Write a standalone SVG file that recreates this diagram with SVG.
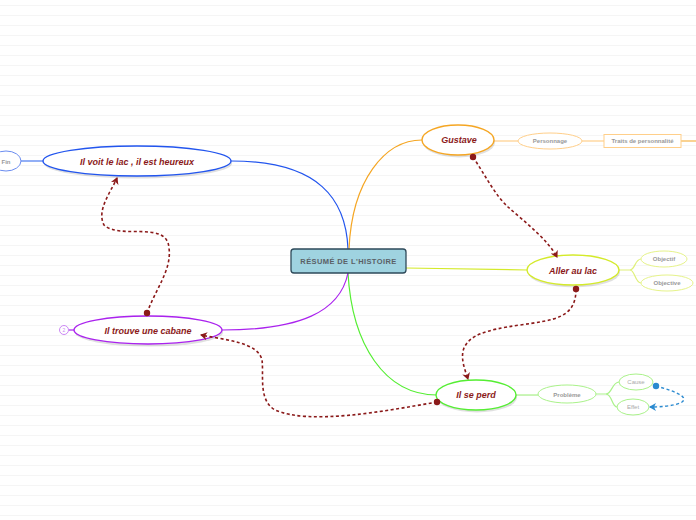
<svg xmlns="http://www.w3.org/2000/svg" width="696" height="520" viewBox="0 0 696 520">
<defs>
<pattern id="lines" width="696" height="10" patternUnits="userSpaceOnUse">
<rect width="696" height="10" fill="#ffffff"/>
<line x1="0" y1="5.5" x2="696" y2="5.5" stroke="#f5f5f5" stroke-width="1"/>
</pattern>
<marker id="arr" markerWidth="8" markerHeight="8" refX="6" refY="4" orient="auto" markerUnits="userSpaceOnUse">
<path d="M0,0 L7,4 L0,8 L2,4 Z" fill="#8b1a1a"/>
</marker>
<marker id="dot" markerWidth="8" markerHeight="8" refX="4" refY="4" markerUnits="userSpaceOnUse">
<circle cx="4" cy="4" r="3.2" fill="#8b1a1a"/>
</marker>
<marker id="arrb" markerWidth="8" markerHeight="8" refX="6" refY="4" orient="auto" markerUnits="userSpaceOnUse">
<path d="M0,0 L7,4 L0,8 L2,4 Z" fill="#2a8ad0"/>
</marker>
<marker id="dotb" markerWidth="8" markerHeight="8" refX="4" refY="4" markerUnits="userSpaceOnUse">
<circle cx="4" cy="4" r="3.2" fill="#2a8ad0"/>
</marker>
</defs>
<style>
.main{font-family:"Liberation Sans",Arial,sans-serif;font-weight:bold;font-style:italic;font-size:9px;fill:#8b1a1a;text-anchor:middle}
.sub{font-family:"Liberation Sans",Arial,sans-serif;font-weight:bold;font-size:6px;fill:#999;text-anchor:middle}
.shadow{fill:#000;opacity:0.12}
.rel{fill:none;stroke:#8b1a1a;stroke-width:1.6;stroke-dasharray:3,2.5}
.br{fill:none;stroke-width:1.2}
</style>
<rect width="696" height="520" fill="url(#lines)"/>

<g id="connectors">
<path class="br" stroke="#2255ee" d="M348,249 C346,200 320,161 231,161"/>
<path class="br" stroke="#f5a623" d="M349,249 C352,180 385,140 422,140"/>
<path class="br" stroke="#d4ea2a" d="M406,268 L527,270"/>
<path class="br" stroke="#55ee33" d="M348,273 C352,345 385,395 437,395"/>
<path class="br" stroke="#aa22ee" d="M348,273 C340,312 300,330 222,330"/>
<path class="br" stroke="#ffcf8a" d="M494,141 L518,141"/>
<path class="br" stroke="#ffcf8a" d="M582,141 L604,141"/>
<path class="br" stroke="#f5b44a" stroke-width="1.4" d="M681,141 L696,141"/>
<path class="br" stroke="#dff07a" d="M619,270 L630,270 C635,270 635,259 641,259"/>
<path class="br" stroke="#dff07a" d="M630,270 C635,270 635,283 641,283"/>
<path class="br" stroke="#aaf28a" d="M516,395 L538,395"/>
<path class="br" stroke="#aaf28a" d="M596,394 L606,394 C612,394 612,382 619,382"/>
<path class="br" stroke="#aaf28a" d="M606,394 C612,394 612,407 617,407"/>
<path class="br" stroke="#4a7af0" d="M21,161 L43,161"/>
<path class="br" stroke="#aa22ee" d="M69,330 L75,330"/>
</g>

<g id="central">
<rect x="291" y="249" width="115" height="24" rx="3" fill="#9fd3e0" stroke="#2e4a5a" stroke-width="1.3"/>
<text x="348.5" y="264" font-family="Liberation Sans,Arial,sans-serif" font-weight="bold" font-size="7.5px" letter-spacing="0.4" fill="#5a6066" text-anchor="middle">RÉSUMÉ DE L'HISTOIRE</text>
</g>

<g id="gustave">
<ellipse class="shadow" cx="459" cy="142.5" rx="36" ry="15"/>
<ellipse cx="458" cy="140" rx="36" ry="15" fill="#fff" stroke="#f5a623" stroke-width="1.4"/>
<text class="main" x="459" y="143">Gustave</text>
</g>
<g id="personnage">
<ellipse cx="550" cy="141" rx="32" ry="8" fill="#fff" stroke="#ffcf8a" stroke-width="1"/>
<text class="sub" x="550" y="143">Personnage</text>
</g>
<g id="traits">
<rect x="604" y="134.5" width="77" height="13" fill="#fff" stroke="#ffcf8a" stroke-width="1"/>
<text class="sub" x="642.5" y="143">Traits de personnalité</text>
</g>

<g id="aller">
<ellipse class="shadow" cx="574" cy="272.5" rx="46" ry="15"/>
<ellipse cx="573" cy="270" rx="46" ry="15" fill="#fff" stroke="#d4ea2a" stroke-width="1.4"/>
<text class="main" x="573" y="273.5">Aller au lac</text>
</g>
<g id="objectif">
<ellipse cx="664" cy="259" rx="23" ry="8" fill="#fff" stroke="#e6f38a" stroke-width="1"/>
<text class="sub" x="664" y="261">Objectif</text>
</g>
<g id="objective">
<ellipse cx="667" cy="283" rx="26" ry="8" fill="#fff" stroke="#e6f38a" stroke-width="1"/>
<text class="sub" x="667" y="285">Objective</text>
</g>

<g id="perd">
<ellipse class="shadow" cx="477" cy="397.5" rx="40" ry="15"/>
<ellipse cx="476" cy="395" rx="40" ry="15" fill="#fff" stroke="#55ee33" stroke-width="1.4"/>
<text class="main" x="476" y="398">Il se perd</text>
</g>
<g id="probleme">
<ellipse cx="567" cy="394" rx="29" ry="9" fill="#fff" stroke="#aaf28a" stroke-width="1"/>
<text class="sub" x="567" y="396.5" font-size="6.5px">Problème</text>
</g>
<g id="cause">
<ellipse cx="636" cy="382" rx="17" ry="8" fill="#fff" stroke="#aaf28a" stroke-width="1"/>
<text class="sub" x="636" y="384" style="fill:#aaa;font-weight:normal">Cause</text>
</g>
<g id="effet">
<ellipse cx="633" cy="407" rx="16" ry="8" fill="#fff" stroke="#aaf28a" stroke-width="1"/>
<text class="sub" x="633" y="409" style="fill:#aaa;font-weight:normal">Effet</text>
</g>

<g id="voit">
<ellipse class="shadow" cx="138" cy="163.5" rx="94" ry="15"/>
<ellipse cx="137" cy="161" rx="94" ry="15" fill="#fff" stroke="#2255ee" stroke-width="1.4"/>
<text class="main" x="137" y="164.5">Il voit le lac , il est heureux</text>
</g>
<g id="fin">
<ellipse cx="6" cy="161" rx="15" ry="10" fill="#fff" stroke="#6a8cf0" stroke-width="1"/>
<text class="sub" x="6" y="163.5" font-size="7px">Fin</text>
</g>

<g id="cabane">
<ellipse class="shadow" cx="149" cy="332.5" rx="74" ry="14"/>
<ellipse cx="148" cy="330" rx="74" ry="14" fill="#fff" stroke="#aa22ee" stroke-width="1.4"/>
<text class="main" x="148" y="333.5">Il trouve une cabane</text>
</g>
<g id="badge">
<circle cx="64" cy="330" r="4.5" fill="#fff" stroke="#cc88f5" stroke-width="1"/>
<text x="64" y="332" font-family="Liberation Sans,Arial,sans-serif" font-size="5px" fill="#cc88f5" text-anchor="middle">2</text>
</g>

<g id="relations">
<path class="rel" marker-start="url(#dot)" marker-end="url(#arr)" d="M473,157 C485,175 495,195 508,207 C525,222 548,240 557,257"/>
<path class="rel" marker-start="url(#dot)" marker-end="url(#arr)" d="M576,289 C576,318 555,320 520,325 C485,330 470,335 464,348 C460,358 465,370 468,379"/>
<path class="rel" marker-start="url(#dot)" marker-end="url(#arr)" d="M437,402 C380,412 310,425 275,410 C258,400 264,375 262,360 C258,342 225,340 201,335"/>
<path class="rel" marker-start="url(#dot)" marker-end="url(#arr)" d="M147,313 C155,290 172,270 169,248 C167,220 120,240 104,225 C96,210 112,190 117,178"/>
<path fill="none" stroke="#2a8ad0" stroke-width="1.4" stroke-dasharray="3,2.5" marker-start="url(#dotb)" marker-end="url(#arrb)" d="M656,386 C670,390 690,396 682,402 C675,406 660,407 650,407"/>
</g>
</svg>
